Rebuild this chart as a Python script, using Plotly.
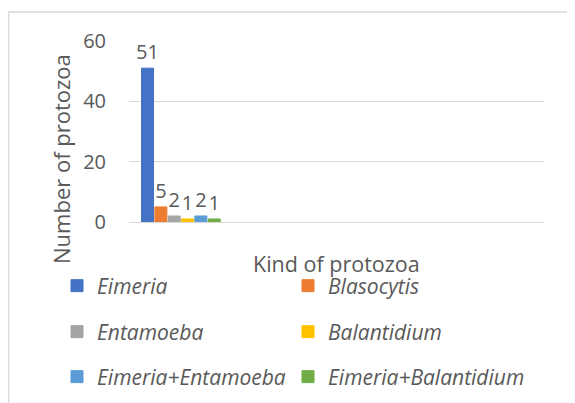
import plotly.graph_objects as go

# Data
series_names = ["Eimeria", "Blasocytis", "Entamoeba", "Balantidium",
                "Eimeria+Entamoeba", "Eimeria+Balantidium"]
series_values = [51, 5, 2, 1, 2, 1]
series_colors = ["#4472C4", "#ED7D31", "#A5A5A5", "#FFC000", "#5B9BD5", "#70AD47"]
category_positions = [0]
y_ticks = [0, 20, 40, 60]
y_title = "Number of protozoa"
x_title = "Kind of protozoa"

OFF = 8  # page body margin offset
W, H = 575 - OFF, 403 - OFF
# plot area in page pixels
PL, PR, PT, PB = 129, 544, 41, 222
L, R, T, B = PL - OFF, PR - OFF, PT - OFF, PB - OFF

def px_x(p):  # page pixel -> paper
    return (p - OFF - L) / (R - L)

def px_y(p):
    return (B - (p - OFF)) / (B - T)

FONT = "Open Sans"
GRAY = "#595959"

fig = go.Figure()
legend_ids = ["legend", "legend", "legend2", "legend2", "legend3", "legend3"]
for i, (name, val, col, lg) in enumerate(zip(series_names, series_values, series_colors, legend_ids)):
    fig.add_trace(go.Bar(
        x=category_positions, y=[val], name=name,
        marker=dict(color=col, line=dict(width=1, color=col)),
        text=[val], texttemplate="%{text}", textposition="outside",
        constraintext="none",
        textfont=dict(family=FONT, size=20, color=GRAY),
        cliponaxis=False, legend=lg,
        legendwidth=186 if i % 2 == 0 else 230,
    ))

row_centers = [286, 332, 377]
leg_left = 57
legend_common = dict(
    orientation="h", xanchor="left", yanchor="middle",
    x=px_x(leg_left), entrywidth=186, entrywidthmode="pixels",
    font=dict(family=FONT, size=21, color=GRAY, style="italic"),
    bgcolor="rgba(0,0,0,0)", borderwidth=0,
)

fig.update_layout(
    width=W, height=H,
    margin=dict(l=L, r=W - R, t=T, b=H - B, pad=0, autoexpand=False),
    paper_bgcolor="white", plot_bgcolor="white",
    barmode="group", bargap=0.229, bargroupgap=0.1,
    font=dict(family=FONT, color=GRAY),
    showlegend=True,
    legend=dict(legend_common, y=px_y(row_centers[0])),
    legend2=dict(legend_common, y=px_y(row_centers[1])),
    legend3=dict(legend_common, y=px_y(row_centers[2])),
    xaxis=dict(range=[-0.5, 3.5], showticklabels=False, showgrid=False,
               zeroline=False, showline=False, ticks=""),
    yaxis=dict(range=[0, 60], tickvals=y_ticks, showgrid=True,
               gridcolor="#d9d9d9", gridwidth=1.4, zeroline=True,
               zerolinecolor="#d9d9d9", zerolinewidth=1.4, showline=False,
               ticks="", ticklabelstandoff=22,
               tickfont=dict(family=FONT, size=20, color=GRAY)),
    annotations=[
        dict(text=y_title, xref="paper", yref="paper", x=px_x(61), y=px_y(159),
             textangle=-90, showarrow=False, xanchor="center", yanchor="middle",
             font=dict(family=FONT, size=22, color=GRAY)),
        dict(text=x_title, xref="paper", yref="paper", x=px_x(336), y=px_y(263),
             showarrow=False, xanchor="center", yanchor="middle",
             font=dict(family=FONT, size=21.5, color=GRAY)),
    ],
    shapes=[
        dict(type="line", xref="paper", yref="paper", x0=px_x(8.5), x1=px_x(600),
             y0=px_y(12), y1=px_y(12), line=dict(color="#d9d9d9", width=1.5)),
        dict(type="line", xref="paper", yref="paper", x0=px_x(8.5), x1=px_x(8.5),
             y0=px_y(12), y1=px_y(430), line=dict(color="#d9d9d9", width=1.5)),
    ],
)

fig.write_html("out.html")
